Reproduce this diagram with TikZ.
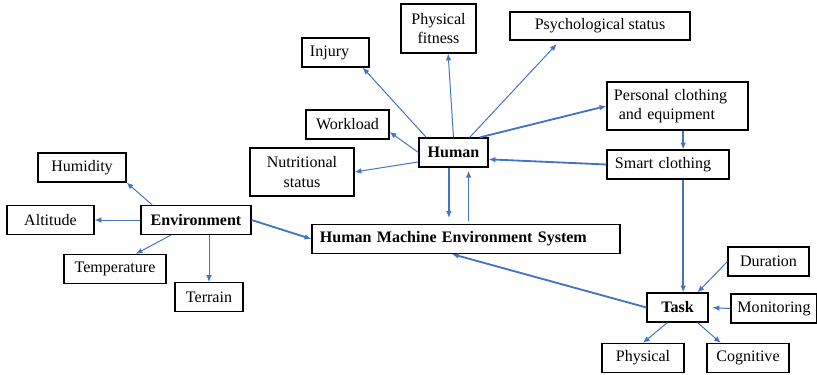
\documentclass[tikz,border=0pt]{standalone}
\usepackage{fontspec}
\setmainfont{Liberation Serif}
\usetikzlibrary{arrows.meta}
\definecolor{linkblue}{HTML}{4472C4}
\tikzset{
  box/.style={draw, line width=0.8pt, rectangle, minimum height=0.725cm,
    inner sep=0.1cm, font=\fontsize{11.4}{13.6}\selectfont},
  lbox/.style={box, align=left, inner xsep=0.2cm},
  link/.style={draw=linkblue, line width=0.7pt, -{Latex[length=1.7mm,width=1.4mm]}},
  heavy/.style={link, line width=1.3pt},
}
\begin{document}
\begin{tikzpicture}[x=0.025cm, y=-0.025cm]
  \useasboundingbox (0,0) rectangle (817,375);
  % environment and its factors
  \node[box, minimum width=2.75cm] (env) at (196,220) {\textbf{Environment}};
  \node[box, minimum width=2.2cm] (hum) at (82,167.5) {Humidity};
  \node[box, minimum width=2.175cm] (alt) at (50.5,220) {Altitude};
  \node[box, minimum width=2.55cm] (temp) at (115,269) {Temperature};
  \node[box, minimum width=1.7cm] (terr) at (209,297) {Terrain};
  % human and its factors
  \node[box, minimum width=1.725cm] (human) at (453.5,152.5) {\textbf{Human}};
  \node[box, align=center, minimum width=2.6cm, minimum height=1.2cm] (nutri) at (302,172) {Nutritional\\status};
  \node[box, minimum width=2.075cm] (work) at (347.5,124.5) {Workload};
  \node[lbox, text width=1.275cm] (injury) at (335.5,52.5) {Injury};
  \node[box, align=center, minimum width=1.875cm, minimum height=1.225cm] (fit) at (438.5,28.5) {Physical\\fitness};
  \node[box, minimum width=4.5cm, minimum height=0.7cm] (psych) at (600,26) {Psychological status};
  \node[lbox, inner xsep=0.175cm, text width=3.175cm, minimum height=1.2cm] (pce) at (677.5,106) {Personal clothing\\\hspace*{0.12cm}and equipment};
  \node[lbox, text width=2.65cm] (smart) at (668,164.5) {Smart clothing};
  % system and task
  \node[lbox, text width=7.3cm] (hmes) at (466,239) {\textbf{Human Machine Environment System}};
  \node[box, minimum width=1.525cm] (task) at (677.5,307.5) {\textbf{Task}};
  \node[box, minimum width=2.025cm] (dur) at (768.5,261.5) {Duration};
  \node[box, minimum width=2.15cm] (mon) at (774,308.5) {Monitoring};
  \node[box, minimum width=2.05cm] (phys) at (643,358) {Physical};
  \node[box, minimum width=2.05cm] (cog) at (748,358) {Cognitive};

  \draw[link] (env.161) -- (hum.south east);
  \draw[link] (env.west) -- (alt.east);
  \draw[link] (env.211) -- (temp.36);
  \draw[link] (terr.north |- env.south) -- (terr.north);
  \draw[heavy] (env.east) -- (hmes.west);

  \draw[link] (human.195) -- (nutri.east);
  \draw[link] (human.west) -- (work.-10);
  \draw[link] (human.151) -- (injury.-29);
  \draw[link] (human.north) -- (fit.-69);
  \draw[link, shorten >=0.12cm] (human.43) -- (psych.200);
  \draw[heavy] (human.30) -- (pce.west);
  \draw[heavy] (smart.west) -- (human.-11);
  \draw[heavy] (pce.-77) -- (pce.-77 |- smart.north);
  \draw[heavy] (pce.-77 |- smart.south) -- (pce.-77 |- task.north);

  \draw[heavy, shorten >=0.15cm] (human.-107) -- (human.-107 |- hmes.north);
  \draw[heavy, shorten <=0.08cm, shorten >=0.08cm] (human.-45 |- hmes.north) -- (human.-45);
  \draw[heavy] (task.west) -- (hmes.-133);

  \draw[link] (dur.west) -- (task.37);
  \draw[link, shorten >=0.1cm] (mon.west) -- (task.east);
  \draw[link] (task.-124) -- (phys.north);
  \draw[link] (task.-37) -- (cog.151);
\end{tikzpicture}
\end{document}
